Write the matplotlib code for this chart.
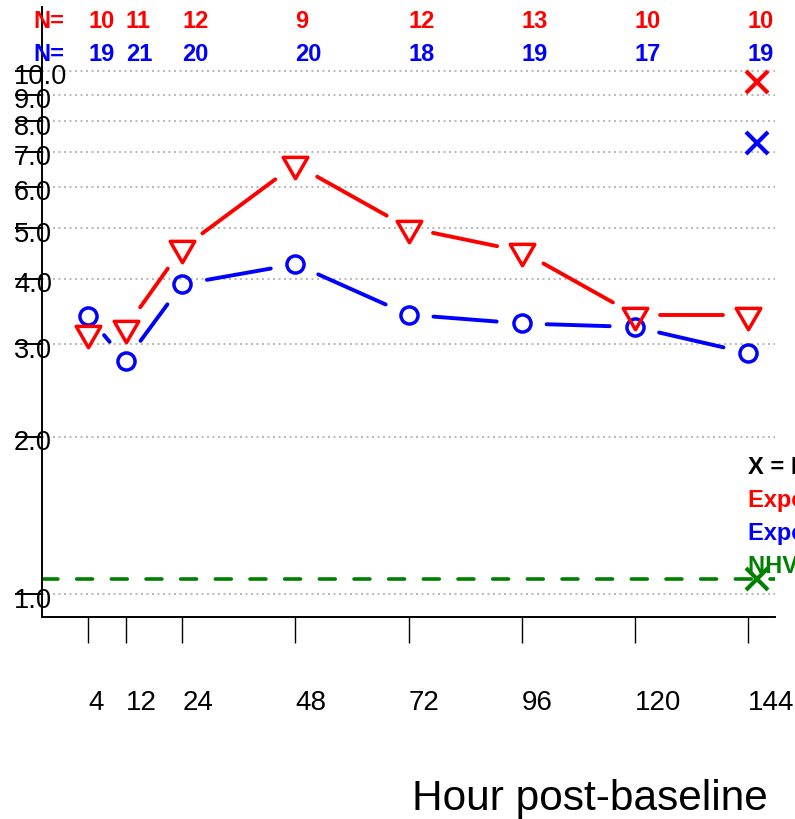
import numpy as np
import matplotlib
matplotlib.use("Agg")
import matplotlib.pyplot as plt
import matplotlib.transforms as mtransforms
from matplotlib.path import Path
from matplotlib.ticker import NullLocator, NullFormatter

plt.rcParams['font.family'] = ['Liberation Sans', 'DejaVu Sans']

# ---- data ----
hours = [4, 12, 24, 48, 72, 96, 120, 144]
red_vals = [3.15, 3.23, 4.58, 6.62, 5.01, 4.52, 3.42, 3.42]
blue_vals = [3.40, 2.79, 3.91, 4.27, 3.42, 3.29, 3.24, 2.89]
red_n = [10, 11, 12, 9, 12, 13, 10, 10]
blue_n = [19, 21, 20, 20, 18, 19, 17, 19]
max_hour = 146
red_max = 9.5
blue_max = 7.28
nhv_value = 1.07
ytick_vals = [1, 2, 3, 4, 5, 6, 7, 8, 9, 10]
ytick_labels = ["1.0", "2.0", "3.0", "4.0", "5.0", "6.0", "7.0", "8.0", "9.0", "10.0"]
legend_lines = ["X = Maximum", "Exposure group A", "Exposure group B", "NHV median"]

RED = "#ff0000"
BLUE = "#0000ff"
GREEN = "#008000"

W, H, DPI = 795, 819, 100
fig = plt.figure(figsize=(W / DPI, H / DPI), dpi=DPI)
ax = fig.add_axes([42 / W, (H - 617) / H, (775 - 42) / W, (617 - 7) / H])

ax.set_yscale('log')
ax.set_xlim(-5.76, 149.76)
ax.set_ylim(0.905, 13.23)

for s in ('top', 'right'):
    ax.spines[s].set_visible(False)
for s in ('left', 'bottom'):
    ax.spines[s].set_linewidth(1.4)

# y axis: ticks crossing the labels
ax.yaxis.set_minor_locator(NullLocator())
ax.yaxis.set_minor_formatter(NullFormatter())
ax.set_yticks(ytick_vals, ytick_labels)
ax.tick_params(axis='y', length=19.4, width=1.4, pad=0.7, labelsize=19.6)
shift_down = mtransforms.ScaledTranslation(0, -2.4 / 72, fig.dpi_scale_trans)
for lab in ax.get_yticklabels():
    lab.set_horizontalalignment('left')
    lab.set_transform(lab.get_transform() + shift_down)

# x axis
ax.set_xticks(hours, [str(h) for h in hours])
ax.tick_params(axis='x', length=18.7, width=1.0, pad=33.5, labelsize=20)
for lab in ax.get_xticklabels():
    lab.set_horizontalalignment('left')

# dotted reference lines
for v in ytick_vals:
    ax.axhline(v, color='#a6a6a6', lw=1.1, ls=(0, (1.3, 2.3)), zorder=1)

# NHV level
ax.axhline(nhv_value, color=GREEN, lw=2.6, ls=(0, (4.4, 5.2)),
           dash_capstyle='round', zorder=2)


def gapped_line(xs, ys, gap_px, **kw):
    pts = ax.transData.transform(np.column_stack([xs, ys]))
    inv = ax.transData.inverted()
    for p0, p1 in zip(pts[:-1], pts[1:]):
        d = p1 - p0
        L = np.hypot(*d)
        if L <= 2 * gap_px:
            continue
        u = d / L
        a = inv.transform(p0 + u * gap_px)
        b = inv.transform(p1 - u * gap_px)
        ax.plot([a[0], b[0]], [a[1], b[1]], solid_capstyle='round', **kw)


tri_down = Path([(0, -1), (0.866, 0.5), (-0.866, 0.5), (0, -1)],
                [Path.MOVETO, Path.LINETO, Path.LINETO, Path.CLOSEPOLY])

gapped_line(hours, blue_vals, 25, color=BLUE, lw=2.8, zorder=3)
ax.plot(hours, blue_vals, ls='none', marker='o', ms=12.3, mfc='none',
        mec=BLUE, mew=2.5, zorder=4)

gapped_line(hours, red_vals, 25, color=RED, lw=2.8, zorder=5)
ax.plot(hours, red_vals, ls='none', marker=tri_down, ms=20.5, mfc='none',
        mec=RED, mew=2.5, zorder=6)

# maxima
ax.plot([max_hour], [red_max], ls='none', marker='x', ms=15.5, mec=RED, mew=3.0, zorder=6)
ax.plot([max_hour], [blue_max], ls='none', marker='x', ms=15.5, mec=BLUE, mew=3.0, zorder=6)
ax.plot([max_hour], [nhv_value], ls='none', marker='x', ms=15.5, mec=GREEN, mew=3.0, zorder=6)

# sample sizes
trans = ax.get_xaxis_transform()
y_red_n, y_blue_n = 0.977, 0.922
ax.text(-0.0123, y_red_n, "N=", transform=ax.transAxes, color=RED, fontsize=17,
        fontweight='bold', ha='left', va='center', clip_on=False)
ax.text(-0.0123, y_blue_n, "N=", transform=ax.transAxes, color=BLUE, fontsize=17,
        fontweight='bold', ha='left', va='center', clip_on=False)
for h, nr, nb in zip(hours, red_n, blue_n):
    ax.text(h, y_red_n, str(nr), transform=trans, color=RED, fontsize=17,
            fontweight='bold', ha='left', va='center', clip_on=False)
    ax.text(h, y_blue_n, str(nb), transform=trans, color=BLUE, fontsize=17,
            fontweight='bold', ha='left', va='center', clip_on=False)

# key
for txt, col, yy in zip(legend_lines, ['black', RED, BLUE, GREEN],
                        [0.2443, 0.1918, 0.1377, 0.082]):
    ax.text(144, yy, txt, transform=trans, color=col, fontsize=17,
            fontweight='bold', ha='left', va='center', clip_on=False)

ax.set_xlabel("Hour post-baseline", fontsize=30.5, ha='left', va='baseline')
ax.xaxis.set_label_coords((412 - 42) / 733, (617 - 810) / 610)

fig.savefig("out.png", dpi=DPI)
